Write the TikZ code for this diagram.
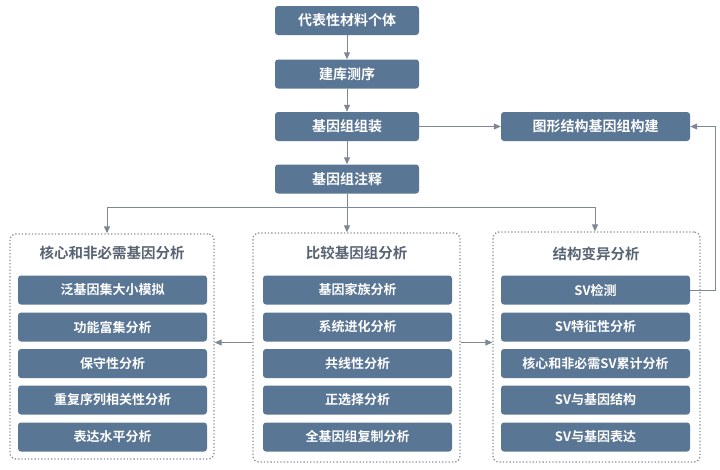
\documentclass[tikz,border=0pt]{standalone}
\usepackage{fontspec}
\setmainfont{Noto Sans CJK SC}
\newfontfamily\cjkb{Noto Sans CJK SC Bold}
\usetikzlibrary{arrows.meta}
\definecolor{boxblue}{RGB}{90,118,149}
\definecolor{linegray}{RGB}{125,135,150}
\definecolor{titlegray}{RGB}{88,100,115}
\definecolor{dotgray}{RGB}{140,145,155}
\begin{document}
\begin{tikzpicture}[x=1pt,y=-1pt,
  bx/.style={rounded corners=3pt, fill=boxblue, text=white, inner sep=0pt,
    font=\cjkb\fontsize{14}{14}\selectfont, minimum width=144pt, minimum height=29pt},
  item/.style={bx, minimum width=189pt, font=\cjkb\fontsize{13}{13}\selectfont},
  panel/.style={draw=dotgray, line width=1.3pt, dash pattern=on 1.3pt off 2pt,
    rounded corners=6pt, inner sep=0pt},
  ttl/.style={text=titlegray, font=\cjkb\fontsize{14.5}{14.5}\selectfont},
  ln/.style={draw=linegray, line width=1pt},
  arr/.style={ln, -{Triangle[length=7pt,width=6pt]}}]
\useasboundingbox (0,0) rectangle (720,469);
% panels
\node[panel, minimum width=204pt, minimum height=225pt] (lp) at (112,346.5) {};
\node[panel, minimum width=207pt, minimum height=229pt] (mp) at (356.5,347.5) {};
\node[panel, minimum width=207pt, minimum height=230pt] (rp) at (596.5,347) {};
% top chain
\node[bx] (b1) at (347,20.5) {代表性材料个体};
\node[bx] (b2) at (347,74) {建库测序};
\node[bx] (b3) at (347,126.5) {基因组组装};
\node[bx] (b4) at (347,179) {基因组注释};
\node[bx, minimum width=189pt] (g) at (595.5,126.5) {图形结构基因组构建};
% titles
\node[ttl] (lt) at (112,253) {核心和非必需基因分析};
\node[ttl] (mt) at (356.5,253) {比较基因组分析};
\node[ttl] (rt) at (596,254) {结构变异分析};
% left items
\node[item] (l1) at (112.5,290) {泛基因集大小模拟};
\node[item] (l2) at (112.5,327) {功能富集分析};
\node[item] (l3) at (112.5,363.5) {保守性分析};
\node[item] (l4) at (112.5,400) {重复序列相关性分析};
\node[item] (l5) at (112.5,437) {表达水平分析};
% middle items
\node[item] (m1) at (357.5,290) {基因家族分析};
\node[item] (m2) at (357.5,327) {系统进化分析};
\node[item] (m3) at (357.5,363.5) {共线性分析};
\node[item] (m4) at (357.5,400) {正选择分析};
\node[item] (m5) at (357.5,437) {全基因组复制分析};
% right items
\node[item] (r1) at (595.5,290) {SV检测};
\node[item] (r2) at (595.5,327) {SV特征性分析};
\node[item] (r3) at (595.5,363.5) {核心和非必需SV累计分析};
\node[item] (r4) at (595.5,400) {SV与基因结构};
\node[item] (r5) at (595.5,437) {SV与基因表达};
% connectors
\draw[arr] (b1) -- (b2);
\draw[arr] (b2) -- (b3);
\draw[arr] (b3) -- (b4);
\draw[arr] (b3) -- (g);
\coordinate (split) at (347,207);
\coordinate (sl) at (107,207);
\coordinate (sr) at (595,207);
\draw[ln] (b4.south) -- (split);
\draw[ln] (sl) -- (sr);
\draw[arr] (sl) -- (sl |- lp.north);
\draw[arr] (split) -- (split |- mp.north);
\draw[arr] (sr) -- (sr |- rp.north);
\draw[arr] ([yshift=5pt]mp.west) -- ([yshift=5pt]mp.west -| lp.east);
\draw[arr] ([yshift=5pt]mp.east) -- ([yshift=5pt]mp.east -| rp.west);
\draw[arr] (r1.east) -- ++(25,0) |- (g.east);
\end{tikzpicture}
\end{document}
